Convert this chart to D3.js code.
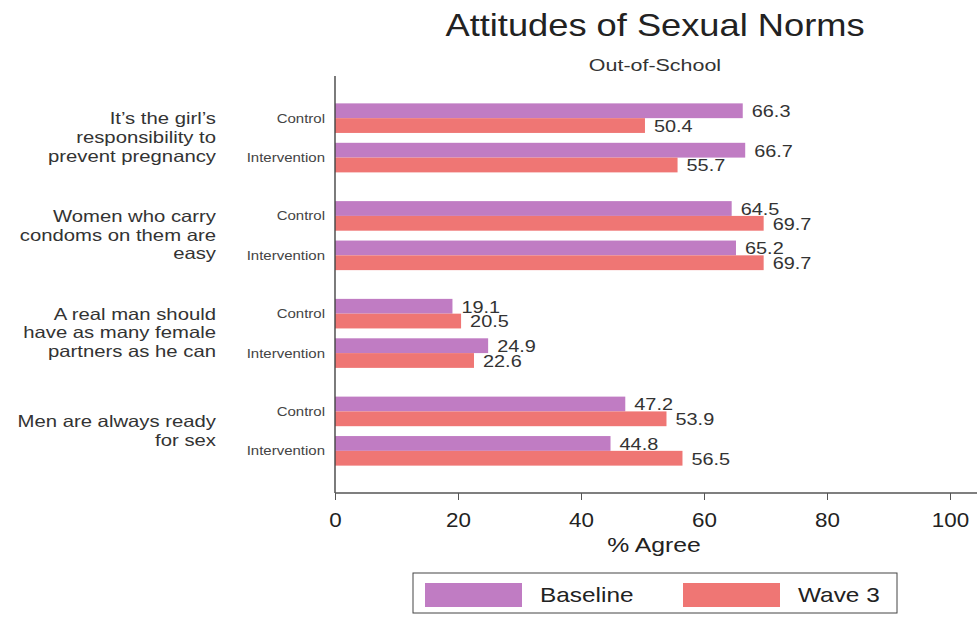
<!DOCTYPE html>
<html><head><meta charset="utf-8">
<script src="https://cdn.jsdelivr.net/npm/d3@7"></script>
<style>body{margin:0;background:#fff}svg{display:block;font-family:"Liberation Sans",Arial,Helvetica,sans-serif}</style>
</head><body><svg id="c" width="977" height="618"></svg>
<script>
const questions = [
  ["It\u2019s the girl\u2019s","responsibility to","prevent pregnancy"],
  ["Women who carry","condoms on them are","easy"],
  ["A real man should","have as many female","partners as he can"],
  ["Men are always ready","for sex"]
];
const arms = ["Control","Intervention"];
const seriesNames = ["Baseline","Wave 3"];
const baselineValues = [[66.3,66.7],[64.5,65.2],[19.1,24.9],[47.2,44.8]];
const wave3Values = [[50.4,55.7],[69.7,69.7],[20.5,22.6],[53.9,56.5]];
const xTicks = [0,20,40,60,80,100];
const colors = ["#c07cc3","#ef7674"];

(function(){
const svg = d3.select("#c");
const pLeft = 335, pRight = 950, pTop = 76, pBottom = 493;
const x = d3.scaleLinear().domain([0,100]).range([pLeft,pRight]);
const gY = d3.scaleBand().domain(d3.range(questions.length)).range([pTop,pBottom]).paddingInner(0.294).paddingOuter(0.28);
const aY = d3.scaleBand().domain(arms).range([0,gY.bandwidth()]).paddingInner(0.25).paddingOuter(0);
const sY = d3.scaleBand().domain(seriesNames).range([0,aY.bandwidth()]);

function stext(px, py, str, size, anchor, sx, fill){
  return svg.append("text").attr("transform",`translate(${px},${py}) scale(${sx},1)`)
    .attr("text-anchor",anchor).attr("font-size",size).attr("fill",fill||"#222").text(str);
}

stext(655,36,"Attitudes of Sexual Norms",31,"middle",1.17);
stext(655,71,"Out-of-School",16.5,"middle",1.3,"#333");

const data = [];
questions.forEach((q,gi)=>arms.forEach((a,ai)=>{
  data.push({gi,a,s:"Baseline",v:baselineValues[gi][ai],c:colors[0]});
  data.push({gi,a,s:"Wave 3",v:wave3Values[gi][ai],c:colors[1]});
}));

svg.selectAll("rect.bar").data(data).join("rect").attr("class","bar")
  .attr("x",x(0)).attr("y",d=>gY(d.gi)+aY(d.a)+sY(d.s))
  .attr("width",d=>x(d.v)-x(0)).attr("height",sY.bandwidth()).attr("fill",d=>d.c);

data.forEach(d=>{
  stext(x(d.v)+9, gY(d.gi)+aY(d.a)+sY(d.s)+sY.bandwidth()-1, d.v.toFixed(1), 17, "start", 1.17, "#333");
});

questions.forEach((q,gi)=>arms.forEach(a=>{
  stext(325, gY(gi)+aY(a)+aY.bandwidth()/2+4.5, a, 12.5, "end", 1.2, "#444");
}));
questions.forEach((q,gi)=>{
  const cy = gY(gi)+gY.bandwidth()/2;
  const lh = 18.8;
  q.forEach((line,i)=>{
    stext(216, cy+(i-(q.length-1)/2)*lh+5, line, 16.5, "end", 1.23, "#333");
  });
});

svg.append("line").attr("x1",pLeft).attr("x2",pLeft).attr("y1",pTop).attr("y2",pBottom).attr("stroke","#444").attr("stroke-width",1.4);
const xa = svg.append("g").attr("transform",`translate(0,${pBottom})`)
  .call(d3.axisBottom(x).tickValues(xTicks).tickSize(7).tickPadding(13).tickSizeOuter(0));
xa.select(".domain").attr("d",`M${pLeft},0H977`).attr("stroke","#555").attr("stroke-width",1.4);
xa.selectAll(".tick line").attr("stroke","#555");
xa.selectAll("text").attr("font-size",20).attr("fill","#222").attr("transform","scale(1.12,1)")
  .attr("font-family","Liberation Sans, Arial, sans-serif");
stext(654,552,"% Agree",21,"middle",1.18);

svg.append("rect").attr("x",413).attr("y",573).attr("width",484).attr("height",40).attr("fill","#fff").attr("stroke","#444").attr("stroke-width",1);
const lx = [425,683];
seriesNames.forEach((s,i)=>{
  svg.append("rect").attr("x",lx[i]).attr("y",583).attr("width",97).attr("height",24).attr("fill",colors[i]);
  stext(lx[i]+115, 602, s, 20, "start", 1.22);
});
})();
</script></body></html>
